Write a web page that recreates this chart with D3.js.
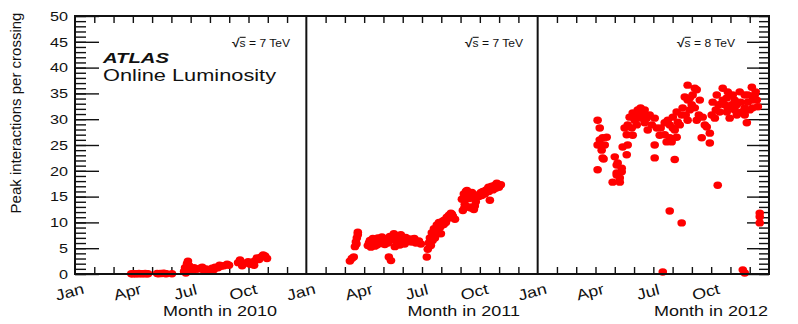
<!DOCTYPE html>
<html>
<head>
<meta charset="utf-8">
<script src="https://cdn.jsdelivr.net/npm/d3@7"></script>
<style>
  body { margin: 0; background: #fff; }
  svg { display: block; font-family: "Liberation Sans", Arial, sans-serif; }
</style>
</head>
<body>
<div id="chart"></div>
<script>
// --- data ---------------------------------------------------------------
const years = [2010, 2011, 2012];
const energies = ['7', '7', '8'];
const monthTicks = [0, 3, 6, 9];
const monthNames = ['Jan', 'Apr', 'Jul', 'Oct'];
const yMajorTicks = [0, 5, 10, 15, 20, 25, 30, 35, 40, 45, 50];

// month position (months since Jan 1) and peak interactions per crossing
const month2010 = [2.92, 3.0, 3.08, 3.16, 3.24, 3.32, 3.4, 3.48, 3.56, 3.64, 3.72, 3.79,
    4.26, 4.34, 4.42, 4.5, 4.58, 4.66, 4.74, 5.03,
    5.66, 5.71, 5.75, 5.81, 5.86, 5.92, 6.02, 6.1, 6.18, 6.33, 6.49, 6.6, 6.64, 6.8, 6.95,
    7.11, 7.2, 7.27, 7.42, 7.5, 7.58, 7.73, 7.89, 7.99,
    8.46, 8.56, 8.67, 8.82, 8.98, 9.08, 9.19, 9.29, 9.34, 9.44, 9.55, 9.65, 9.76, 9.86, 9.96];
const peak2010 = [0.05, 0.02, 0.08, 0.03, 0.06, 0.1, 0.04, 0.07, 0.05, 0.09, 0.03, 0.06,
    0.1, 0.05, 0.12, 0.08, 0.15, 0.1, 0.06, 0.04,
    0.5, 1.2, 0.2, 2.0, 2.5, 1.6, 1.0, 0.7, 1.2, 0.9, 1.1, 1.3, 0.8, 1.0, 0.5,
    1.1, 0.8, 1.3, 1.2, 1.7, 1.5, 1.6, 1.9, 1.7,
    2.2, 2.7, 1.6, 2.1, 2.4, 1.9, 2.3, 1.7, 2.6, 3.1, 2.8, 3.3, 3.7, 3.5, 3.0];

const month2011 = [2.26, 2.36, 2.46, 2.52, 2.57, 2.6, 2.62, 2.67, 2.67,
    3.19, 3.25, 3.3, 3.35, 3.4, 3.45, 3.5, 3.55, 3.61, 3.66, 3.71, 3.76, 3.81, 3.86, 3.92, 4.02, 4.07,
    4.28, 4.39,
    4.23, 4.33, 4.44, 4.54, 4.59, 4.64, 4.7, 4.75, 4.85, 4.9, 4.96, 5.06, 5.1, 5.16, 5.2, 5.27, 5.37,
    5.45, 5.53, 5.6, 5.68, 5.75, 5.84, 5.94,
    6.25, 6.3, 6.35, 6.41, 6.46, 6.51, 6.55, 6.62, 6.67, 6.72, 6.77, 6.82, 6.88, 6.93, 6.98, 6.98,
    7.03, 7.08, 7.13, 7.19, 7.24, 7.29, 7.35, 7.4, 7.45, 7.5, 7.55, 7.6, 7.71,
    8.07, 8.12, 8.17, 8.2, 8.22, 8.25, 8.28, 8.33, 8.38, 8.43, 8.48, 8.53, 8.59, 8.64, 8.69, 8.74, 8.79, 8.85,
    8.95, 9.06, 9.1, 9.16, 9.26, 9.3, 9.37, 9.45, 9.47, 9.52, 9.57, 9.62, 9.68, 9.78, 9.83, 9.88, 9.93, 9.99, 10.09];
const peak2011 = [2.5, 3.0, 3.3, 5.3, 6.2, 5.8, 7.0, 8.1, 7.6,
    5.5, 6.0, 6.5, 5.2, 5.8, 6.9, 6.6, 5.4, 6.2, 5.6, 7.0, 6.6, 6.3, 5.9, 7.2, 6.8, 5.7,
    3.3, 2.6,
    6.0, 7.3, 6.7, 7.8, 5.3, 6.4, 6.8, 7.4, 5.6, 7.6, 6.9, 6.2, 5.8, 7.1, 6.6, 6.3, 6.8,
    6.2, 6.5, 6.9, 6.0, 6.3, 6.4, 5.8,
    3.3, 4.8, 6.0, 7.0, 5.5, 8.0, 6.5, 8.8, 7.0, 7.6, 9.5, 8.5, 10.0, 9.0, 9.3, 7.8,
    9.8, 10.3, 9.6, 10.5, 10.0, 11.0, 10.8, 11.4, 10.9, 11.8, 11.6, 11.2, 10.6,
    14.5, 12.3, 15.5, 12.8, 13.5, 15.0, 16.0, 16.2, 15.4, 14.6, 13.0, 12.8, 15.8, 15.2, 12.5, 13.2, 14.0, 15.3,
    15.0, 15.8, 15.2, 16.0, 15.5, 16.2, 16.4, 16.8, 16.0, 14.3, 16.8, 17.0, 16.3, 17.2, 16.6, 17.6, 17.4, 16.8, 17.3];

const month2012 = [3.11, 3.22, 3.37, 3.11, 3.32, 3.58, 3.37, 3.11, 3.42, 3.22, 3.48,
    4.0, 4.1, 4.1, 3.89, 4.36, 4.26, 4.15, 4.26, 4.1, 4.36,
    4.41, 4.62, 4.51, 4.77, 4.93, 5.19, 5.45, 5.66, 5.14, 4.93, 4.62, 4.67, 5.29, 5.03, 5.55,
    4.67, 4.88, 5.09, 5.34, 5.55, 5.81, 5.92, 5.71,
    6.07, 6.18, 6.33, 6.69, 6.85, 6.07, 6.07, 7.11, 6.59, 7.01, 6.85, 7.01, 7.21, 7.52,
    6.38, 6.59, 6.75, 7.11, 7.27, 7.47, 7.89, 8.04, 7.78, 8.15, 8.36, 8.67, 8.51,
    7.78, 7.63, 7.89, 8.25, 8.15, 8.25, 8.56, 8.77, 8.93, 8.93, 7.21, 6.95, 7.37, 7.68, 7.99, 7.78, 8.41,
    6.49, 6.85, 7.47,
    9.08, 9.29, 9.6, 9.81, 9.44, 9.86, 10.12, 10.33, 10.48, 10.59, 10.9, 11.11, 11.16, 10.85,
    10.33, 9.03, 11.0, 9.96, 9.19, 9.7, 10.22, 10.74, 11.26, 11.37, 11.42,
    9.39, 9.6, 9.81, 10.07, 10.22, 10.53, 10.74, 10.9, 11.16, 11.31, 9.86, 9.24, 10.74,
    9.34, 10.74, 10.64, 11.52, 11.52, 11.52];
const peak2012 = [29.8, 28.3, 26.4, 25.0, 24.0, 26.5, 22.5, 20.2, 22.3, 26.0, 25.0,
    22.7, 21.1, 19.2, 17.8, 19.8, 18.6, 21.5, 17.8, 19.6, 20.5,
    24.6, 27.0, 28.3, 30.4, 31.2, 31.8, 31.2, 30.2, 28.9, 26.9, 23.1, 25.0, 30.2, 29.8, 29.3,
    28.9, 28.3, 30.8, 32.2, 31.8, 30.8, 28.9, 27.9,
    30.2, 28.3, 26.9, 25.6, 26.4, 25.0, 22.5, 22.2, 29.3, 28.3, 28.9, 30.4, 31.4, 32.2,
    28.3, 27.0, 29.8, 27.9, 29.4, 30.8, 31.8, 34.7, 33.7, 36.0, 30.8, 28.9, 26.4,
    36.6, 34.3, 34.1, 35.7, 32.2, 29.8, 30.4, 28.5, 27.3, 25.4, 26.5, 25.6, 28.9, 30.8, 32.8, 29.8, 33.7,
    0.4, 12.2, 9.9,
    33.3, 34.7, 36.0, 34.1, 31.4, 32.2, 34.7, 32.8, 35.3, 31.4, 33.3, 36.2, 33.7, 29.3,
    30.8, 30.8, 31.8, 30.2, 30.2, 32.8, 33.7, 34.7, 34.7, 33.7, 32.4,
    32.8, 33.7, 31.4, 32.8, 31.8, 33.3, 32.2, 34.7, 32.2, 35.3, 35.3, 31.8, 30.8,
    17.2, 0.2, 0.8, 11.8, 11.1, 9.9];

const months = [month2010, month2011, month2012];
const peaks = [peak2010, peak2011, peak2012];

// --- layout -------------------------------------------------------------
const width = 798;
const height = 324;
const plotLeft = 75, plotRight = 769, plotTop = 16, plotBottom = 274;
const panelW = (plotRight - plotLeft) / 3;
const titleEnds = [277, 520, 768];   // right edge of "Month in ..." captions
const energyEnds = [290, 523, 735];  // right edge of sqrt(s) captions
const ink = '#111';

const mySVG = d3.select('#chart')
    .append('svg')
        .attr('width', width)
        .attr('height', height);

const y = d3.scaleLinear()
    .domain([0, 50])
    .range([plotBottom, plotTop]);

const yMinor = d3.range(0, 51, 1);

function styleAxis(sel) {
    sel.select('.domain').remove();
    sel.selectAll('line').attr('stroke', ink).attr('stroke-width', 1.4);
}

// y axis ticks, left side (pointing inward)
mySVG.append('g')
    .attr('transform', `translate(${plotLeft},0)`)
    .call(d3.axisRight(y).tickValues(yMinor).tickSize(11).tickFormat(''))
    .call(styleAxis);
mySVG.append('g')
    .attr('transform', `translate(${plotLeft},0)`)
    .call(d3.axisRight(y).tickValues(yMajorTicks).tickSize(24).tickFormat(''))
    .call(styleAxis);

// mirrored ticks on the right side
mySVG.append('g')
    .attr('transform', `translate(${plotRight},0)`)
    .call(d3.axisLeft(y).tickValues(yMinor).tickSize(10).tickFormat(''))
    .call(styleAxis);
mySVG.append('g')
    .attr('transform', `translate(${plotRight},0)`)
    .call(d3.axisLeft(y).tickValues(yMajorTicks).tickSize(22).tickFormat(''))
    .call(styleAxis);

// y tick labels
mySVG.append('g')
    .selectAll('text')
    .data(yMajorTicks)
    .join('text')
        .attr('transform', d => `translate(68,${y(d)}) scale(1.2,1)`)
        .attr('dy', '0.36em')
        .attr('text-anchor', 'end')
        .style('font-size', '13.5px')
        .style('fill', ink)
        .text(d => d);

// y axis title
mySVG.append('text')
    .attr('transform', 'translate(21,113) rotate(-90)')
    .attr('text-anchor', 'middle')
    .style('font-size', '15px')
    .style('fill', ink)
    .text('Peak interactions per crossing');

// --- panels ---------------------------------------------------------------
years.forEach((year, i) => {
    const x0 = plotLeft + i * panelW;
    const x = d3.scaleLinear()
        .domain([0, 12])
        .range([x0, x0 + panelW]);

    const g = mySVG.append('g');

    // month ticks top and bottom
    g.append('g')
        .attr('transform', `translate(0,${plotTop})`)
        .call(d3.axisBottom(x).tickValues(d3.range(1, 12)).tickSize(7).tickFormat(''))
        .call(styleAxis);
    g.append('g')
        .attr('transform', `translate(0,${plotBottom})`)
        .call(d3.axisTop(x).tickValues(d3.range(1, 12)).tickSize(7).tickFormat(''))
        .call(styleAxis);

    // month labels (tilted)
    g.selectAll('text.month')
        .data(monthTicks)
        .join('text')
            .classed('month', true)
            .attr('transform', (d) => `translate(${x(d) - 4},297) rotate(-15) scale(1.2,1)`)
            .attr('text-anchor', 'middle')
            .style('font-size', '15px')
            .style('fill', ink)
            .text((d, k) => monthNames[k]);

    // caption under the panel
    g.append('text')
        .attr('transform', `translate(${titleEnds[i]},316) scale(1.2,1)`)
        .attr('text-anchor', 'end')
        .style('font-size', '15px')
        .style('fill', ink)
        .text('Month in ' + year);

    // sqrt(s) caption
    const e = g.append('text')
        .attr('transform', `translate(${energyEnds[i]},47) scale(1.15,1)`)
        .attr('text-anchor', 'end')
        .style('font-size', '10.5px')
        .style('fill', ink);
    e.append('tspan').style('font-weight', 'bold').style('font-size', '12px').text('\u221A');
    e.append('tspan').style('text-decoration', 'overline').text('s');
    e.append('tspan').text(' = ' + energies[i] + ' TeV');

    // data markers
    const pts = months[i].map((m, k) => ({m: m, v: peaks[i][k]}));
    g.append('g')
        .selectAll('ellipse')
        .data(pts)
        .join('ellipse')
            .attr('cx', d => x(d.m))
            .attr('cy', d => y(d.v))
            .attr('rx', 4.3)
            .attr('ry', 3.7)
            .style('fill', '#ff0000');
});

// --- frame --------------------------------------------------------------
mySVG.append('rect')
    .attr('x', plotLeft)
    .attr('y', plotTop)
    .attr('width', plotRight - plotLeft)
    .attr('height', plotBottom - plotTop)
    .style('fill', 'none')
    .style('stroke', ink)
    .style('stroke-width', 2);

mySVG.append('g')
    .selectAll('line')
    .data([1, 2])
    .join('line')
        .attr('x1', d => plotLeft + d * panelW)
        .attr('x2', d => plotLeft + d * panelW)
        .attr('y1', plotTop)
        .attr('y2', plotBottom)
        .style('stroke', ink)
        .style('stroke-width', 2);

// ATLAS label
mySVG.append('text')
    .attr('transform', 'translate(103,62.5) scale(1.35,1)')
    .style('font-size', '15px')
    .style('font-weight', 'bold')
    .style('font-style', 'italic')
    .style('fill', ink)
    .text('ATLAS');

mySVG.append('text')
    .attr('transform', 'translate(103,81) scale(1.32,1)')
    .style('font-size', '16.5px')
    .style('fill', ink)
    .text('Online Luminosity');
</script>
</body>
</html>
